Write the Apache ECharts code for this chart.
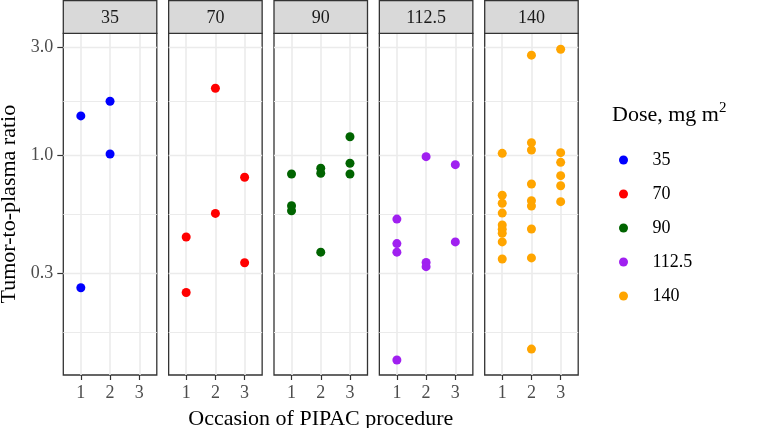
<!DOCTYPE html>
<html><head><meta charset="utf-8">
<script src="https://cdn.jsdelivr.net/npm/echarts@6/dist/echarts.min.js"></script>
<style>html,body{margin:0;padding:0;background:#fff}#c{width:764px;height:428px}</style>
</head><body><div id="c"></div>
<script>
// ---- data ----
const doses = ['35', '70', '90', '112.5', '140'];
const doseColors = ['#0000FF', '#FF0000', '#006400', '#A020F0', '#FFA500'];
const occasionTicks = [1, 2, 3];
const yTickValues = [0.3, 1.0, 3.0];
const yMinorValues = [0.164, 0.548, 1.732];
// [occasion, tumor-to-plasma ratio]
const dose35 = [[1, 1.49], [1, 0.258], [2, 1.73], [2, 1.01]];
const dose70 = [[1, 0.433], [1, 0.246], [2, 1.975], [2, 0.551], [3, 0.797], [3, 0.333]];
const dose90 = [[1, 0.824], [1, 0.596], [1, 0.566], [2, 0.873], [2, 0.830], [2, 0.371], [3, 1.205], [3, 0.919], [3, 0.824]];
const dose112 = [[1, 0.520], [1, 0.405], [1, 0.371], [1, 0.1235], [2, 0.983], [2, 0.334], [2, 0.320], [3, 0.906], [3, 0.412]];
const dose140 = [[1, 1.017], [1, 0.663], [1, 0.611], [1, 0.553], [1, 0.490], [1, 0.469], [1, 0.450], [1, 0.412], [1, 0.346],
  [2, 2.77], [2, 1.134], [2, 1.052], [2, 0.744], [2, 0.627], [2, 0.594], [2, 0.470], [2, 0.350], [2, 0.138],
  [3, 2.94], [3, 1.024], [3, 0.928], [3, 0.810], [3, 0.731], [3, 0.621]];
const panelData = [dose35, dose70, dose90, dose112, dose140];

// ---- layout ----
const FONT = '"Liberation Serif", "Times New Roman", serif';
const L0 = 63.3, STEP = 105.35, PW = 93.5, TOP = 33.3, PH = 341.7;
const xMin = 0.4, xMax = 3.6;
const yMin = -0.9748, yMax = 0.5392;
const lg = v => Math.log10(v);
const GRID_COL = '#ebebeb';

const grids = [], xAxes = [], yAxes = [], series = [], graphics = [];
doses.forEach((d, i) => {
  const left = L0 + i * STEP;
  grids.push({ left: left, top: TOP, width: PW, height: PH, show: true, borderColor: '#333', borderWidth: 1.3, backgroundColor: '#fff', containLabel: false, outerBoundsMode: 'none' });
  xAxes.push({
    type: 'value', gridIndex: i, min: xMin, max: xMax, position: 'bottom',
    axisLine: { show: false, onZero: false }, splitLine: { show: false },
    axisTick: { show: true, customValues: occasionTicks, length: 5, lineStyle: { color: '#333', width: 1.2 } },
    axisLabel: { customValues: occasionTicks, fontFamily: FONT, fontSize: 18, color: '#4d4d4d', margin: 9 },
    name: i === 2 ? 'Occasion of PIPAC procedure' : '', nameLocation: 'middle', nameGap: 33,
    nameTextStyle: { fontFamily: FONT, fontSize: 22, color: '#000' }
  });
  yAxes.push({
    type: 'value', gridIndex: i, min: yMin, max: yMax, position: 'left',
    axisLine: { show: false, onZero: false }, splitLine: { show: false },
    axisTick: { show: i === 0, customValues: yTickValues.map(lg), length: 6, lineStyle: { color: '#333', width: 1.2 } },
    axisLabel: { show: i === 0, customValues: yTickValues.map(lg), formatter: v => Math.pow(10, v).toFixed(1), fontFamily: FONT, fontSize: 18, color: '#4d4d4d', margin: 10 },
    name: i === 0 ? 'Tumor-to-plasma ratio' : '', nameLocation: 'middle', nameGap: 43,
    nameTextStyle: { fontFamily: FONT, fontSize: 22, color: '#000' }
  });
  const vLines = occasionTicks.map(x => [{ coord: [x, yMin], lineStyle: { color: GRID_COL, width: 1.6, type: 'solid' } }, { coord: [x, yMax] }]);
  const hMajor = yTickValues.map(v => [{ coord: [xMin, lg(v)], lineStyle: { color: GRID_COL, width: 1.3, type: 'solid' } }, { coord: [xMax, lg(v)] }]);
  const hMinor = yMinorValues.map(v => [{ coord: [xMin, lg(v)], lineStyle: { color: GRID_COL, width: 1.1, type: 'solid' } }, { coord: [xMax, lg(v)] }]);
  series.push({
    type: 'line', name: '_grid' + i, xAxisIndex: i, yAxisIndex: i, data: [], silent: true, z: 1,
    markLine: {
      z: 1, silent: true, symbol: ['none', 'none'], label: { show: false }, animation: false,
      emphasis: { disabled: true },
      lineStyle: { color: GRID_COL, width: 1.3, type: 'solid' },
      data: [].concat(vLines, hMajor, hMinor)
    }
  });
  series.push({
    type: 'scatter', name: d, xAxisIndex: i, yAxisIndex: i, z: 3,
    data: panelData[i].map(p => [p[0], lg(p[1])]),
    symbolSize: 9, itemStyle: { color: doseColors[i], opacity: 1 }
  });
  graphics.push({
    type: 'rect', shape: { x: left, y: 0.6, width: PW, height: TOP - 0.6 },
    style: { fill: '#d9d9d9', stroke: '#333', lineWidth: 1.3 }, z: 10
  });
  graphics.push({
    type: 'text', x: left + PW / 2, y: 18.3, z: 11,
    style: { text: d, font: '18px ' + FONT, fill: '#1a1a1a', textAlign: 'center', textVerticalAlign: 'middle' }
  });
});
graphics.push({
  type: 'text', x: 612, y: 115.4, z: 11,
  style: {
    text: '{a|Dose, mg m}{b|2}', textVerticalAlign: 'middle', textAlign: 'left',
    rich: {
      a: { fontFamily: FONT, fontSize: 22, lineHeight: 30, verticalAlign: 'middle', fill: '#000' },
      b: { fontFamily: FONT, fontSize: 15, lineHeight: 15, verticalAlign: 'top', fill: '#000' }
    }
  }
});

const chart = echarts.init(document.getElementById('c'));
chart.setOption({
  animation: false,
  backgroundColor: '#fff',
  grid: grids, xAxis: xAxes, yAxis: yAxes, series: series,
  legend: {
    data: doses, orient: 'vertical', left: 614, top: 145, icon: 'circle',
    itemWidth: 28, itemHeight: 9, itemGap: 14,
    textStyle: { fontFamily: FONT, fontSize: 18, lineHeight: 20, color: '#000', padding: [0, 0, 0, 10] },
    selectedMode: false
  },
  graphic: graphics
});
</script></body></html>
